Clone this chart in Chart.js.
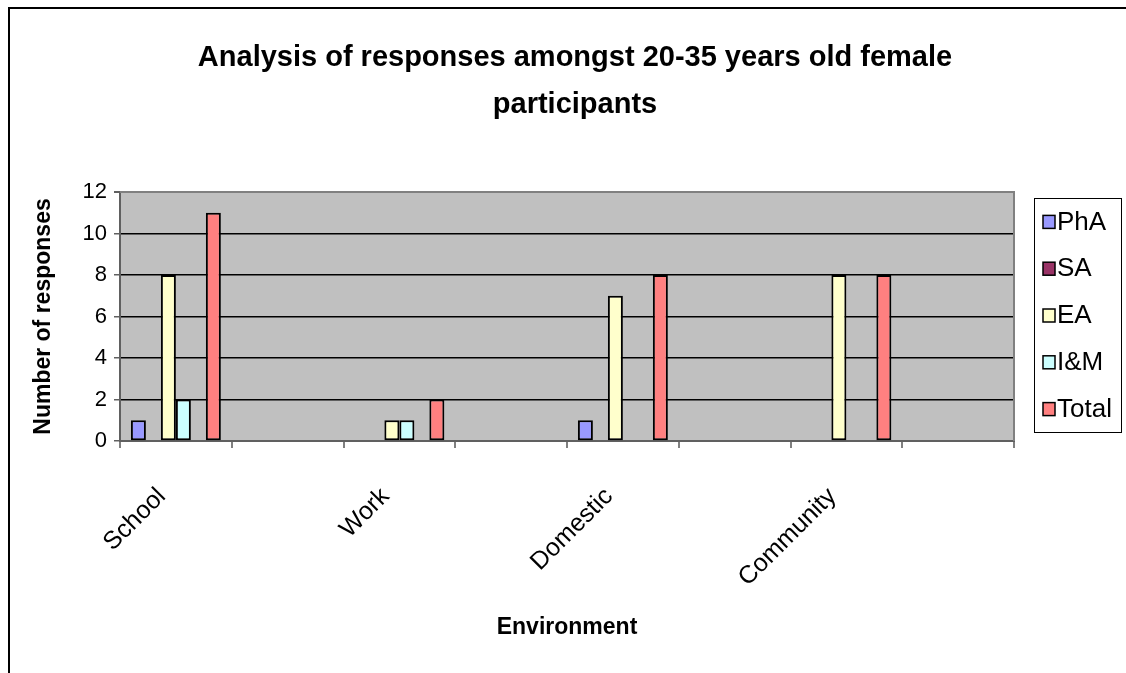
<!DOCTYPE html>
<html>
<head>
<meta charset="utf-8">
<script src="https://cdn.jsdelivr.net/npm/chart.js@4/dist/chart.umd.min.js"></script>
<style>
  html, body { margin: 0; padding: 0; background: #fff; }
  #wrap { width: 1126px; height: 673px; }
</style>
</head>
<body>
<div id="wrap"><canvas id="chart" width="1126" height="673"></canvas></div>
<script>
// Categories: Excel sheet had a blank row after every environment
const categories = ['School', '', 'Work', '', 'Domestic', '', 'Community', ''];

const phA   = [1, null, 0, null, 1, null, 0, null];
const sA    = [0, null, 0, null, 0, null, 0, null];
const eA    = [8, null, 1, null, 7, null, 8, null];
const iAndM = [2, null, 1, null, 0, null, 0, null];
const blank = [null, null, null, null, null, null, null, null]; // empty slot before Total
const total = [11, null, 2, null, 8, null, 8, null];

const yTicks = [0, 2, 4, 6, 8, 10, 12];

const FONT = 'Liberation Sans, Arial, sans-serif';

function series(label, data, color) {
  return {
    label,
    data,
    backgroundColor: color,
    borderColor: '#000',
    borderWidth: 2,
    borderSkipped: false,
  };
}

const datasets = [
  series('PhA', phA, '#9999ff'),
  series('SA', sA, '#993366'),
  series('EA', eA, '#ffffcc'),
  series('I&M', iAndM, '#ccffff'),
  series('', blank, '#ffffff'),
  series('Total', total, '#ff8080'),
];

// grey plot area, frame and the boxed legend on the right
const excelLook = {
  id: 'excelLook',
  beforeDraw(chart) {
    const { ctx, chartArea: a } = chart;
    ctx.save();
    ctx.fillStyle = '#c0c0c0';
    ctx.fillRect(a.left, a.top, a.right - a.left, a.bottom - a.top);
    ctx.restore();
  },
  afterDraw(chart) {
    const { ctx, chartArea: a } = chart;
    ctx.save();
    // right and top border of plot area
    ctx.strokeStyle = '#808080';
    ctx.lineWidth = 2;
    ctx.beginPath();
    ctx.moveTo(a.left, a.top);
    ctx.lineTo(a.right, a.top);
    ctx.lineTo(a.right, a.bottom);
    ctx.stroke();

    // outer frame
    ctx.strokeStyle = '#000';
    ctx.lineWidth = 2;
    ctx.beginPath();
    ctx.moveTo(9, 700);
    ctx.lineTo(9, 8);
    ctx.lineTo(1130, 8);
    ctx.stroke();

    // legend
    const items = chart.data.datasets.filter(d => d.label);
    const box = { left: 1034, top: 198, right: 1121, bottom: 432 };
    ctx.fillStyle = '#fff';
    ctx.fillRect(box.left, box.top, box.right - box.left, box.bottom - box.top);
    ctx.strokeStyle = '#000';
    ctx.lineWidth = 1;
    ctx.strokeRect(box.left + 0.5, box.top + 0.5, box.right - box.left, box.bottom - box.top);
    const step = (box.bottom - box.top) / items.length;
    ctx.font = '26px ' + FONT;
    ctx.textBaseline = 'middle';
    items.forEach((d, i) => {
      const cy = box.top + step * (i + 0.5);
      ctx.fillStyle = d.backgroundColor;
      ctx.fillRect(1043, cy - 6, 12, 13);
      ctx.strokeStyle = '#000';
      ctx.lineWidth = 1.5;
      ctx.strokeRect(1043, cy - 6, 12, 13);
      ctx.fillStyle = '#000';
      ctx.fillText(d.label, 1057, cy + 1);
    });
    ctx.restore();
  },
};

new Chart(document.getElementById('chart'), {
  type: 'bar',
  data: { labels: categories, datasets },
  plugins: [excelLook],
  options: {
    responsive: false,
    devicePixelRatio: 1,
    animation: false,
    layout: { padding: { left: 24, right: 0, top: 0, bottom: 0 } },
    datasets: {
      bar: { categoryPercentage: 0.805, barPercentage: 1 },
    },
    plugins: {
      legend: { display: false },
      tooltip: { enabled: false },
      title: {
        display: true,
        text: ['Analysis of responses amongst 20-35 years old female', 'participants'],
        color: '#000',
        font: { family: FONT, size: 29, weight: 'bold', lineHeight: 47 / 29 },
        padding: { top: 34.5, bottom: 63.5 },
      },
    },
    scales: {
      x: {
        afterFit: (s) => { s.height = 673 - 441; },
        border: { color: '#606060', width: 2 },
        grid: {
          offset: true,
          drawOnChartArea: false,
          drawTicks: true,
          tickLength: 7,
          tickColor: '#808080',
          lineWidth: 2,
        },
        ticks: {
          autoSkip: false,
          minRotation: 45,
          maxRotation: 45,
          labelOffset: -14,
          color: '#000',
          padding: 34,
          font: { family: FONT, size: 25 },
        },
        title: {
          display: true,
          text: 'Environment',
          color: '#000',
          font: { family: FONT, size: 23, weight: 'bold', lineHeight: 1 },
          padding: { top: 0, bottom: 33.5 },
        },
      },
      y: {
        min: 0,
        max: 12,
        afterFit: (s) => { s.width = 96; },
        afterBuildTicks: (s) => { s.ticks = yTicks.map(v => ({ value: v })); },
        border: { color: '#606060', width: 2 },
        grid: {
          color: (c) => (c.tick && c.tick.value === 12 ? '#808080' : '#000'),
          lineWidth: (c) => (c.tick && c.tick.value === 12 ? 2 : 1.5),
          tickLength: 6,
          tickColor: '#606060',
        },
        ticks: {
          color: '#000',
          padding: 7,
          font: { family: FONT, size: 22 },
        },
        title: {
          display: true,
          text: 'Number of responses',
          color: '#000',
          font: { family: FONT, size: 23, weight: 'bold', lineHeight: 1 },
          padding: { top: 8.5, bottom: 0 },
        },
      },
      // empty right-hand axis that keeps room for the legend box
      legendRoom: {
        type: 'linear',
        position: 'right',
        display: true,
        afterFit: (s) => { s.width = 112; },
        grid: { display: false },
        border: { display: false },
        ticks: { display: false },
      },
    },
  },
});
</script>
</body>
</html>
